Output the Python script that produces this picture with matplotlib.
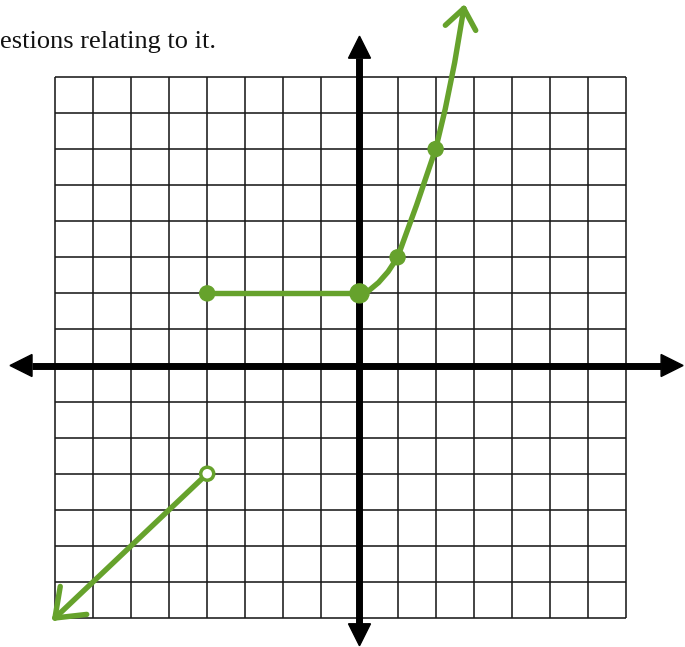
import numpy as np
import matplotlib
matplotlib.use("Agg")
import matplotlib.pyplot as plt
from matplotlib.patches import Polygon, Ellipse

# ---- graph data (grid units) ----
grid_x = list(range(-8, 8))          # vertical grid lines
grid_y = list(range(-7, 9))          # horizontal grid lines

# left ray: open endpoint at (-4, -3), continues down-left
ray_x = [-4, -8]
ray_y = [-3, -7]
open_pt = (-4, -3)

# flat segment with closed endpoints
flat_x = [-4, 0]
flat_y = [2, 2]

# rising curve through the plotted points, arrow at the top
curve_x = [0, 0.25, 0.5, 0.75, 1, 1.5, 2, 2.25, 2.5, 2.74]
curve_y = [2, 2.08, 2.3, 2.6, 3, 4.45, 6, 7.1, 8.4, 9.9]
closed_x = [-4, 0, 1, 2]
closed_y = [2, 2, 3, 6]

caption = "estions relating to it."

GREEN = "#66a22c"
W, H = 685, 647
fig = plt.figure(figsize=(W / 100, H / 100), dpi=100)
ax = fig.add_axes([0, 0, 1, 1])
ax.set_xlim(-9.443, 8.550)
ax.set_ylim(-7.804, 10.133)
ax.axis("off")

sx = 38.07   # pixels per unit (x)
sy = 36.07   # pixels per unit (y)

# grid
ax.vlines(grid_x, grid_y[0], grid_y[-1], color="#1a1a1a", lw=1.15, zorder=1)
ax.hlines(grid_y, grid_x[0], grid_x[-1], color="#1a1a1a", lw=1.15, zorder=1)


def axis_arrow(tip, back_dir, length_px=22, half_w_px=11):
    """Filled triangular head with tip at `tip`, pointing away from back_dir."""
    bx, by = back_dir
    n = np.hypot(bx, by)
    bx, by = bx / n, by / n
    px, py = -by, bx
    base = (tip[0] + bx * length_px / sx, tip[1] + by * length_px / sy)
    p1 = (base[0] + px * half_w_px / sx, base[1] + py * half_w_px / sy)
    p2 = (base[0] - px * half_w_px / sx, base[1] - py * half_w_px / sy)
    ax.add_patch(Polygon([tip, p1, p2], closed=True, color="black", zorder=3))
    return base


# axes with arrowheads
y_top, y_bot = 9.13, -7.77
x_left, x_right = -9.18, 8.50
b1 = axis_arrow((0, y_top), (0, -1))
b2 = axis_arrow((0, y_bot), (0, 1))
b3 = axis_arrow((x_left, 0), (1, 0))
b4 = axis_arrow((x_right, 0), (-1, 0))
ax.plot([0, 0], [b2[1], b1[1]], color="black", lw=5.0, solid_capstyle="butt", zorder=3)
ax.plot([b3[0], b4[0]], [0, 0], color="black", lw=5.0, solid_capstyle="butt", zorder=3)

# green graph
line_kw = dict(color=GREEN, lw=3.9, solid_capstyle="round", solid_joinstyle="round", zorder=4)
ax.plot(ray_x, ray_y, **line_kw)
ax.plot(flat_x, flat_y, **line_kw)
ax.plot(curve_x, curve_y, **line_kw)


def v_head(tip, prev, arm_px=(30, 30), ang=37):
    """Open V arrowhead drawn as two strokes."""
    dx = (prev[0] - tip[0]) * sx
    dy = (prev[1] - tip[1]) * sy
    base_ang = np.arctan2(dy, dx)
    for a, L in zip((np.radians(ang), -np.radians(ang)), arm_px):
        ex = tip[0] + L * np.cos(base_ang + a) / sx
        ey = tip[1] + L * np.sin(base_ang + a) / sy
        ax.plot([tip[0], ex], [tip[1], ey], **line_kw)


v_head((curve_x[-1], curve_y[-1]), (curve_x[-2], curve_y[-2]), arm_px=(25, 25), ang=38)
v_head((ray_x[-1], ray_y[-1]), (ray_x[0], ray_y[0]), arm_px=(32, 32), ang=37)

# closed dots
for cx, cy in zip(closed_x, closed_y):
    r = 9.5 if (cx, cy) == (0, 2) else 7.5
    ax.add_patch(Ellipse((cx, cy), 2 * r / sx, 2 * r / sy, color=GREEN, zorder=5))

# open dot
ax.add_patch(Ellipse(open_pt, 13 / sx, 13 / sy, facecolor="white",
                     edgecolor=GREEN, lw=2.5, zorder=5))

fig.text(0.0, 1 - 48 / H, caption, ha="left", va="baseline",
         fontfamily="Liberation Serif", fontsize=19, color="#111111")

fig.savefig("out.png", dpi=100)
